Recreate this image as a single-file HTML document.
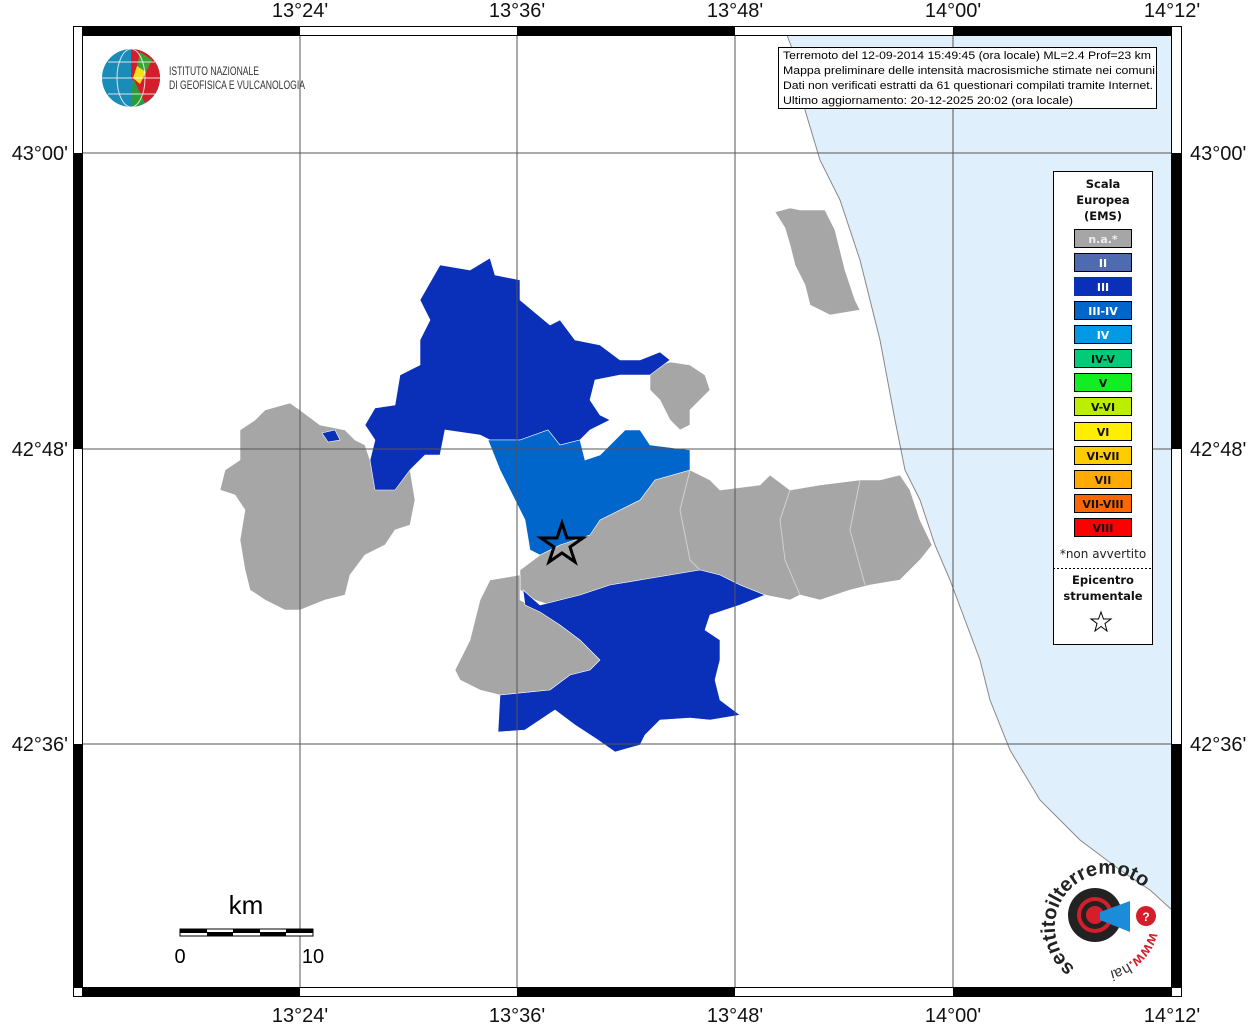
<!DOCTYPE html>
<html><head><meta charset="utf-8"><style>
html,body{margin:0;padding:0;background:#fff;}
svg{display:block;font-family:"Liberation Sans",sans-serif;}
</style></head><body>
<svg width="1255" height="1024" viewBox="0 0 1255 1024" xmlns="http://www.w3.org/2000/svg">
<rect width="1255" height="1024" fill="#fff"/>
<polygon fill="#dff0fc" points="787,35 800,70 805,110 820,160 840,200 860,260 880,340 895,420 905,470 920,500 930,530 935,545 950,580 965,620 980,660 990,700 1010,750 1040,800 1080,840 1120,870 1150,890 1172,910 1172,35"/>
<polyline fill="none" stroke="#888" stroke-width="1" points="787,35 800,70 805,110 820,160 840,200 860,260 880,340 895,420 905,470 920,500 930,530 935,545 950,580 965,620 980,660 990,700 1010,750 1040,800 1080,840 1120,870 1150,890 1172,910"/>
<g stroke="#fff" stroke-width="0.6">
<polygon fill="#a6a6a6" points="240,430 255,420 265,410 290,403 300,410 320,425 345,430 355,440 365,445 375,475 395,480 410,470 415,500 410,525 395,530 385,545 365,555 350,575 345,595 325,600 300,610 285,610 265,600 250,590 245,570 240,540 245,510 235,495 220,490 225,470 240,460"/>
<polygon fill="#a6a6a6" points="775,212 790,208 800,210 825,210 835,230 845,270 855,300 860,310 830,315 810,305 805,285 795,265 790,245 785,228"/>
<polygon fill="#a6a6a6" points="650,368 670,362 690,365 705,375 710,390 700,400 690,410 690,425 680,430 670,420 660,400 650,390"/>
<polygon fill="#a6a6a6" points="520,570 540,555 560,545 600,520 640,500 655,480 690,470 710,480 720,490 760,485 770,475 790,490 820,485 860,480 880,480 900,475 910,490 920,520 932,545 920,560 900,580 870,585 850,590 820,600 800,595 790,600 765,595 740,585 720,575 700,570 670,575 640,580 610,585 580,595 550,605 535,600 520,590"/>
<polygon fill="#a6a6a6" points="490,580 520,575 520,600 540,610 560,625 580,640 600,660 590,670 570,675 550,690 500,695 480,690 460,680 455,670 470,640 475,620 480,600"/>
<polygon fill="#0a2fb8" points="420,300 440,265 470,270 490,258 495,275 520,280 520,300 550,325 560,320 575,340 600,345 620,360 640,360 660,352 670,360 650,375 620,375 595,380 590,400 600,415 610,420 590,430 580,440 560,445 548,430 520,440 490,440 480,435 445,430 440,455 425,455 410,470 395,490 375,490 370,460 375,440 365,425 375,408 395,405 400,375 420,365 420,340 430,320"/>
<polygon fill="#0a2fb8" points="322,433 335,430 340,440 328,442"/>
<polygon fill="#0066cc" points="488,440 520,440 548,430 560,445 580,440 585,460 600,455 615,440 625,430 640,430 650,445 690,450 690,470 655,480 640,500 600,520 590,535 560,545 540,555 530,550 525,520 510,490 500,470"/>
<polygon fill="#0a2fb8" points="523,590 540,605 580,595 610,585 640,580 670,575 700,570 720,575 740,585 765,595 740,605 710,615 705,630 720,640 720,660 715,680 720,700 740,715 710,720 690,718 660,720 645,735 640,745 615,752 598,740 575,725 555,710 540,720 525,730 498,732 500,695 550,690 570,675 590,670 600,660 580,640 560,625 540,612 525,605"/>
</g>
<g fill="none" stroke="#d0d0d0" stroke-width="1">
<polyline points="690,470 680,510 690,560 700,570"/>
<polyline points="790,490 780,520 785,560 800,595"/>
<polyline points="860,480 850,530 865,585"/>
</g>
<g stroke="#555" stroke-width="1">
<line x1="300" y1="35" x2="300" y2="988"/><line x1="517" y1="35" x2="517" y2="988"/>
<line x1="735" y1="35" x2="735" y2="988"/><line x1="953" y1="35" x2="953" y2="988"/>
<line x1="82" y1="153" x2="1172" y2="153"/><line x1="82" y1="449" x2="1172" y2="449"/>
<line x1="82" y1="744" x2="1172" y2="744"/>
</g>
<polygon fill="none" stroke="#000" stroke-width="3" points="562,523 567,538 583,538 570,547 575,562 562,553 549,562 554,547 541,538 557,538"/>
<rect x="73.5" y="26.5" width="1108" height="970" fill="none" stroke="#000" stroke-width="1"/>
<g fill="#000">
<rect x="82" y="26" width="218" height="9"/><rect x="517" y="26" width="218" height="9"/><rect x="953" y="26" width="219" height="9"/>
<rect x="82" y="988" width="218" height="9"/><rect x="517" y="988" width="218" height="9"/><rect x="953" y="988" width="219" height="9"/>
<rect x="73" y="153" width="9" height="296"/><rect x="73" y="744" width="9" height="244"/>
<rect x="1172" y="153" width="9" height="296"/><rect x="1172" y="744" width="9" height="244"/>
</g>
<rect x="82.5" y="35.5" width="1089" height="952" fill="none" stroke="#000" stroke-width="1"/>
<g font-size="20" fill="#111" text-anchor="middle">
<text x="300" y="17">13°24'</text><text x="517" y="17">13°36'</text><text x="735" y="17">13°48'</text><text x="953" y="17">14°00'</text><text x="1172" y="17">14°12'</text>
<text x="300" y="1022">13°24'</text><text x="517" y="1022">13°36'</text><text x="735" y="1022">13°48'</text><text x="953" y="1022">14°00'</text><text x="1172" y="1022">14°12'</text>
</g>
<g font-size="20" fill="#111">
<text x="68" y="160" text-anchor="end">43°00'</text><text x="68" y="456" text-anchor="end">42°48'</text><text x="68" y="751" text-anchor="end">42°36'</text>
<text x="1190" y="160">43°00'</text><text x="1190" y="456">42°48'</text><text x="1190" y="751">42°36'</text>
</g>
<circle cx="131" cy="78" r="29" fill="#1a8cb8"/>
<path d="M131,49 A29,29 0 0,1 160,78 A29,29 0 0,1 145,103 L131,78 Z" fill="#d41e2c"/>
<path d="M140,52 L152,60 L146,72 L137,66Z" fill="#3aa335"/>
<path d="M137,66 L146,72 L140,84 L133,78Z" fill="#f2e21d"/>
<path d="M133,78 L145,103 A29,29 0 0,1 131,107Z" fill="#2f9a3a"/>
<g stroke="#fff" stroke-width="1" fill="none" opacity="0.8"><ellipse cx="131" cy="78" rx="14" ry="29"/><line x1="102" y1="78" x2="160" y2="78"/><line x1="108" y1="62" x2="155" y2="62"/><line x1="108" y1="94" x2="155" y2="94"/></g>
<text x="169" y="75" font-size="12" fill="#333" textLength="90" lengthAdjust="spacingAndGlyphs">ISTITUTO NAZIONALE</text>
<text x="169" y="89" font-size="12" fill="#333" textLength="136" lengthAdjust="spacingAndGlyphs">DI GEOFISICA E VULCANOLOGIA</text>
<rect x="778.5" y="47.5" width="378" height="61" fill="#fff" stroke="#000"/>
<g font-size="11" fill="#000">
<text x="783" y="59" textLength="368" lengthAdjust="spacingAndGlyphs">Terremoto del 12-09-2014 15:49:45 (ora locale) ML=2.4 Prof=23 km</text>
<text x="783" y="74" textLength="372" lengthAdjust="spacingAndGlyphs">Mappa preliminare delle intensità macrosismiche stimate nei comuni</text>
<text x="783" y="89" textLength="370" lengthAdjust="spacingAndGlyphs">Dati non verificati estratti da 61 questionari compilati tramite Internet.</text>
<text x="783" y="104" textLength="290" lengthAdjust="spacingAndGlyphs">Ultimo aggiornamento: 20-12-2025 20:02 (ora locale)</text>
</g>
<rect x="1053.5" y="171.5" width="99" height="473" fill="#fff" stroke="#000"/>
<g font-family="DejaVu Sans,sans-serif" font-size="11.5" font-weight="bold" text-anchor="middle" fill="#111">
<text x="1103" y="188">Scala</text><text x="1103" y="204">Europea</text><text x="1103" y="220">(EMS)</text>
</g>
<g font-family="DejaVu Sans,sans-serif" font-size="11" font-weight="bold" text-anchor="middle">
<rect x="1074.5" y="229.5" width="57" height="18" fill="#a6a6a6" stroke="#000"/><text x="1103" y="243" fill="#eee">n.a.*</text>
<rect x="1074.5" y="253.5" width="57" height="18" fill="#4f6bb0" stroke="#000"/><text x="1103" y="267" fill="#fff">II</text>
<rect x="1074.5" y="277.5" width="57" height="18" fill="#0a2fb8" stroke="#0a2fb8"/><text x="1103" y="291" fill="#fff">III</text>
<rect x="1074.5" y="301.5" width="57" height="18" fill="#0066cc" stroke="#000"/><text x="1103" y="315" fill="#fff">III-IV</text>
<rect x="1074.5" y="325.5" width="57" height="18" fill="#0099e6" stroke="#000"/><text x="1103" y="339" fill="#fff">IV</text>
<rect x="1074.5" y="349.5" width="57" height="18" fill="#00cc77" stroke="#000"/><text x="1103" y="363" fill="#111">IV-V</text>
<rect x="1074.5" y="373.5" width="57" height="18" fill="#11ee22" stroke="#000"/><text x="1103" y="387" fill="#111">V</text>
<rect x="1074.5" y="397.5" width="57" height="18" fill="#bbee00" stroke="#000"/><text x="1103" y="411" fill="#111">V-VI</text>
<rect x="1074.5" y="422.5" width="57" height="18" fill="#ffee00" stroke="#000"/><text x="1103" y="436" fill="#111">VI</text>
<rect x="1074.5" y="446.5" width="57" height="18" fill="#ffcc00" stroke="#000"/><text x="1103" y="460" fill="#111">VI-VII</text>
<rect x="1074.5" y="470.5" width="57" height="18" fill="#ffaa00" stroke="#000"/><text x="1103" y="484" fill="#111">VII</text>
<rect x="1074.5" y="494.5" width="57" height="18" fill="#ff6600" stroke="#000"/><text x="1103" y="508" fill="#111">VII-VIII</text>
<rect x="1074.5" y="518.5" width="57" height="18" fill="#ff0000" stroke="#000"/><text x="1103" y="532" fill="#111">VIII</text>
</g>
<text x="1103" y="558" font-family="DejaVu Sans,sans-serif" font-size="12" text-anchor="middle" fill="#222">*non avvertito</text>
<line x1="1053" y1="568.5" x2="1153" y2="568.5" stroke="#000" stroke-dasharray="2,2"/>
<g font-family="DejaVu Sans,sans-serif" font-size="11.5" font-weight="bold" text-anchor="middle" fill="#111">
<text x="1103" y="584">Epicentro</text><text x="1103" y="600">strumentale</text>
</g>
<polygon fill="none" stroke="#000" stroke-width="1" points="1101,612 1103.5,619 1111,619 1105,623.5 1107,631 1101,626.5 1095,631 1097,623.5 1091,619 1098.5,619"/>
<text x="246" y="914" font-size="26" text-anchor="middle" fill="#000">km</text>
<rect x="180" y="929" width="133" height="7" fill="#fff" stroke="#000"/>
<rect x="180" y="929" width="27" height="4" fill="#000"/><rect x="207" y="932" width="26" height="4" fill="#000"/><rect x="233" y="929" width="27" height="4" fill="#000"/><rect x="260" y="932" width="26" height="4" fill="#000"/><rect x="286" y="929" width="27" height="4" fill="#000"/>
<text x="180" y="963" font-size="20" text-anchor="middle" fill="#000">0</text>
<text x="313" y="963" font-size="20" text-anchor="middle" fill="#000">10</text>
<circle cx="1095" cy="915" r="34" fill="#fff"/>
<circle cx="1095" cy="915" r="27" fill="#222"/>
<circle cx="1095" cy="915" r="18" fill="#d41e2c"/>
<circle cx="1095" cy="915" r="14" fill="#222"/>
<circle cx="1095" cy="915" r="9" fill="#d41e2c"/>
<polygon points="1100,912 1130,901 1130,932 1100,920" fill="#1a8cd8"/>
<circle cx="1146" cy="916" r="10" fill="#d41e2c"/>
<text x="1146" y="921" font-size="12" font-weight="bold" fill="#fff" text-anchor="middle">?</text>
<path id="arc" d="M1075,968 A50,50 0 1,1 1140,885" fill="none"/>
<text font-size="20" fill="#222" font-weight="bold"><textPath href="#arc">sentitoilterremoto<tspan fill="#d41e2c">.it</tspan></textPath></text>
<path id="arc2" d="M1150,932 A55,55 0 0,1 1090,972" fill="none"/>
<text font-size="15" fill="#d41e2c" font-weight="bold"><textPath href="#arc2">www.<tspan fill="#333" font-weight="normal">hai</tspan></textPath></text>
</svg>
</body></html>
